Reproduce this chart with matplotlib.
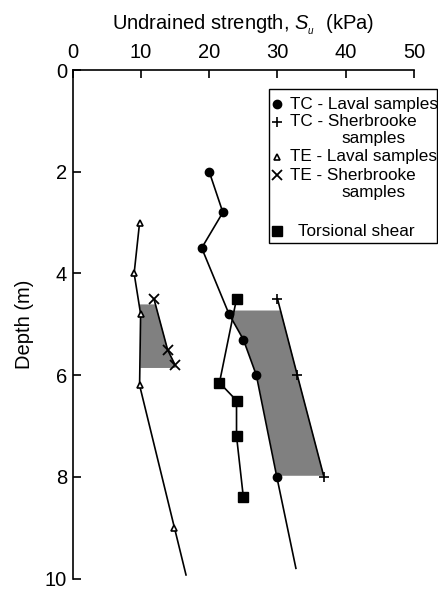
import numpy as np
import matplotlib.pyplot as plt
from matplotlib.lines import Line2D
from matplotlib.patches import Rectangle

plt.rcParams['font.family'] = ['Liberation Sans', 'DejaVu Sans']
plt.rcParams['mathtext.fontset'] = 'custom'
plt.rcParams['mathtext.rm'] = 'Liberation Sans'
plt.rcParams['mathtext.it'] = 'Liberation Sans:italic'

# TC - Laval samples (strength kPa, depth m)
tc_laval_su = [20.0, 22.0, 18.9, 22.9, 25.0, 26.9, 29.9]
tc_laval_z = [2.0, 2.8, 3.5, 4.8, 5.3, 6.0, 8.0]
tc_laval_end = (32.7, 9.8)

# TC - Sherbrooke samples
tc_sher_su = [30.0, 32.9, 36.8]
tc_sher_z = [4.5, 6.0, 8.0]

# TE - Laval samples
te_laval_su = [9.8, 9.0, 9.95, 9.8, 14.9]
te_laval_z = [3.0, 4.0, 4.8, 6.2, 9.0]
te_laval_end = (16.6, 9.93)

# TE - Sherbrooke samples
te_sher_su = [11.9, 13.9, 15.0]
te_sher_z = [4.5, 5.5, 5.8]

# Torsional shear
tors_su = [24.0, 21.5, 24.0, 24.0, 25.0]
tors_z = [4.5, 6.15, 6.5, 7.2, 8.4]

# depth range of shaded bands
tc_band = [4.72, 7.97]
te_band = [4.6, 5.85]

W, H = 438, 589
fig = plt.figure(figsize=(W / 100, H / 100), dpi=100)
ax = fig.add_axes([72.7 / W, 1 - 578.5 / H, (414 - 72.7) / W, 508.5 / H])

# shaded bands
zz = np.linspace(tc_band[0], tc_band[1], 50)
ax.fill_betweenx(zz, np.interp(zz, tc_laval_z, tc_laval_su),
                 np.interp(zz, tc_sher_z, tc_sher_su), color='#808080', lw=0)
zz = np.linspace(te_band[0], te_band[1], 50)
ax.fill_betweenx(zz, np.interp(zz, te_laval_z, te_laval_su),
                 np.interp(zz, te_sher_z, te_sher_su), color='#808080', lw=0)

lw = 1.2
ax.plot(tc_laval_su + [tc_laval_end[0]], tc_laval_z + [tc_laval_end[1]], color='black', lw=lw)
ax.plot(tc_laval_su, tc_laval_z, 'o', color='black', ms=6)
ax.plot(tc_sher_su, tc_sher_z, '+-', color='black', lw=lw, ms=7, mew=1.2)
ax.plot(te_laval_su + [te_laval_end[0]], te_laval_z + [te_laval_end[1]], color='black', lw=lw)
ax.plot(te_laval_su, te_laval_z, '^', color='black', mfc='white', ms=5, mew=1.2)
ax.plot(te_sher_su, te_sher_z, 'x-', color='black', lw=lw, ms=7, mew=1.3)
ax.plot(tors_su, tors_z, 's-', color='black', lw=lw, ms=7)

ax.set_xlim(0, 50)
ax.set_ylim(10, 0)
ax.xaxis.tick_top()
ax.xaxis.set_label_position('top')
ax.set_xticks([0, 10, 20, 30, 40, 50])
ax.set_yticks([0, 2, 4, 6, 8, 10])
ax.tick_params(axis='x', direction='in', length=6, width=1.2, labelsize=14.5, pad=5.5)
ax.tick_params(axis='y', direction='in', length=6, width=1.2, labelsize=14.5, pad=4)
ax.spines['right'].set_visible(False)
ax.spines['bottom'].set_visible(False)
ax.spines['top'].set_linewidth(1.2)
ax.spines['left'].set_linewidth(1.2)
ax.set_xlabel(r'Undrained strength, $S_{_u}$  (kPa)', fontsize=14.5, labelpad=10)
ax.set_ylabel('Depth (m)', fontsize=14.5, labelpad=8)


# hand-made legend, positions in pixels from the top-left corner
def fpos(x, y):
    return x / W, 1 - y / H


x0, y0 = fpos(269.3, 89.3)
x1, y1 = fpos(436.7, 242.7)
fig.add_artist(Rectangle((x0, y1), x1 - x0, y0 - y1, transform=fig.transFigure,
                         fill=False, edgecolor='black', lw=1.0))

leg_rows = [
    ('o', dict(color='black', ms=6), 'TC - Laval samples', 104),
    ('+', dict(color='black', ms=7, mew=1.2), 'TC - Sherbrooke', 122),
    ('^', dict(color='black', mfc='white', ms=5, mew=1.2), 'TE - Laval samples', 157),
    ('x', dict(color='black', ms=7, mew=1.3), 'TE - Sherbrooke', 175),
]
for mk, kw, txt, y in leg_rows:
    mx, my = fpos(277, y)
    fig.add_artist(Line2D([mx], [my], marker=mk, ls='none', transform=fig.transFigure, **kw))
    tx, ty = fpos(290, y)
    fig.text(tx, ty, txt, fontsize=12.3, va='center', ha='left')
for y in [139, 193]:
    tx, ty = fpos(341.7, y)
    fig.text(tx, ty, 'samples', fontsize=12.3, va='center', ha='left')
mx, my = fpos(277, 231)
fig.add_artist(Line2D([mx], [my], marker='s', color='black', ms=7, ls='none',
                      transform=fig.transFigure))
tx, ty = fpos(298, 231)
fig.text(tx, ty, 'Torsional shear', fontsize=12.3, va='center', ha='left')

fig.savefig('out.png', dpi=100)
